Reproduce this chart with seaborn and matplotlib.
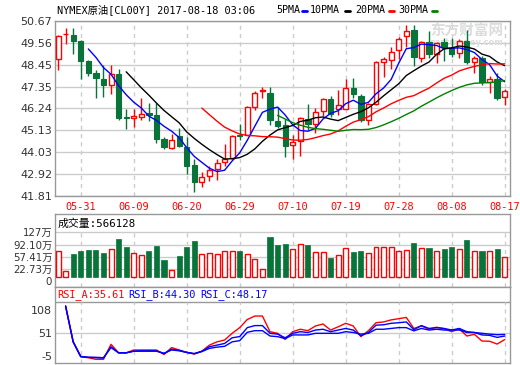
import numpy as np
import pandas as pd
import matplotlib
matplotlib.use("Agg")
import matplotlib.pyplot as plt
from matplotlib.lines import Line2D
import seaborn as sns

# 日K数据
opens = [48.75, 50.00, 49.94, 49.67, 48.65, 48.02, 47.72, 47.43, 47.97, 45.83,
         45.76, 45.80, 46.02, 45.93, 44.68, 44.25, 44.85, 44.29, 43.39, 42.54,
         42.81, 43.18, 43.52, 43.73, 44.88, 44.88, 46.32, 47.15, 47.05, 45.63,
         45.39, 44.37, 44.61, 45.73, 45.46, 46.12, 46.70, 46.20, 46.20, 47.26,
         46.88, 45.65, 46.46, 48.57, 48.70, 49.21, 49.89, 50.20, 48.82, 49.63,
         48.99, 49.60, 49.30, 49.04, 49.68, 48.57, 48.79, 47.56, 47.72, 46.83]
highs = [49.97, 50.31, 50.31, 49.70, 48.70, 48.19, 48.45, 48.45, 48.24, 46.20,
         46.20, 46.75, 46.54, 46.53, 44.80, 44.97, 45.25, 44.80, 43.69, 43.01,
         43.35, 43.69, 44.46, 44.88, 45.48, 46.35, 47.12, 47.34, 47.34, 46.32,
         45.70, 44.88, 45.81, 46.49, 46.27, 46.75, 46.89, 47.17, 47.73, 47.77,
         46.95, 46.52, 48.65, 48.87, 49.33, 49.85, 50.45, 50.45, 49.65, 50.14,
         49.60, 49.80, 49.80, 49.77, 50.23, 48.92, 48.92, 47.90, 48.02, 47.22]
lows = [48.19, 49.52, 49.01, 47.72, 47.87, 46.75, 46.83, 46.95, 45.65, 45.19,
        45.29, 45.65, 45.59, 44.51, 44.20, 44.20, 44.29, 42.93, 42.03, 42.25,
        42.59, 42.64, 43.35, 43.69, 44.63, 44.88, 46.15, 46.78, 45.39, 45.25,
        43.78, 43.66, 43.83, 45.14, 45.00, 45.87, 45.81, 45.90, 46.20, 46.78,
        45.56, 45.39, 46.44, 47.85, 48.24, 48.75, 49.33, 48.41, 48.60, 48.82,
        48.53, 48.62, 48.87, 48.82, 48.48, 48.02, 47.43, 47.05, 46.66, 46.44]
closes = [49.89, 50.03, 49.67, 48.65, 48.04, 47.77, 47.43, 47.97, 45.78, 45.75,
          45.87, 45.95, 45.93, 44.68, 44.27, 44.63, 44.32, 43.35, 42.50, 42.76,
          43.15, 43.47, 43.69, 44.85, 44.83, 46.32, 47.05, 47.18, 45.65, 45.36,
          44.32, 44.54, 45.76, 45.47, 46.07, 46.70, 45.98, 46.41, 47.26, 46.95,
          45.65, 46.49, 48.57, 48.73, 49.12, 49.77, 50.14, 48.87, 49.60, 48.99,
          49.55, 49.33, 48.99, 49.68, 48.57, 48.79, 47.56, 47.72, 46.78, 47.12]
# 成交量 (万)
volumes = [73.9, 17.0, 65.4, 73.9, 76.8, 76.8, 69.1, 78.7, 108.0, 85.3,
           67.2, 61.7, 73.9, 88.1, 48.3, 19.9, 59.7, 85.3, 103.2, 65.4,
           68.2, 65.4, 73.9, 73.9, 73.9, 65.4, 51.2, 22.7, 114.6, 91.0,
           94.7, 79.6, 93.8, 91.0, 71.1, 71.1, 54.9, 62.5, 82.5, 71.1,
           73.9, 68.2, 84.4, 85.3, 85.3, 73.9, 76.8, 97.5, 82.5, 82.5,
           73.9, 79.6, 85.3, 79.6, 105.2, 73.9, 73.9, 73.9, 79.6, 56.6]
nan = np.nan
rsi_a = [nan, 118, 30, -7, -9, -13, -13, 24, 3, 3,
         10, 10, 10, 10, -1, 16, 10, 4, 0, 7,
         22, 30, 34.5, 51, 65, 85, 93.5, 93.5, 55, 51,
         36, 55, 61, 57.5, 69, 74, 59, 67, 75.6, 69,
         42.8, 57.5, 77, 79, 84, 87, 90, 63, 69, 61,
         66, 62, 55, 62, 44.4, 48.5, 32, 31.5, 24.6, 35.6]
rsi_b = [nan, 118, 30, -6, -8, -9, -10, 18, 3, 3,
         7, 8, 8, 8, 1, 12, 9, 4, 1, 7,
         18, 22, 26, 40, 43, 65, 70, 70, 51, 49,
         40, 51, 55, 53, 59, 61, 55, 59, 63, 59,
         45, 53, 71, 72, 75.6, 77, 79, 60, 70, 63,
         65, 63, 59, 63, 55, 53, 47, 46, 41, 44.3]
rsi_c = [nan, 118, 30, -6, -8, -8, -9, 16, 3, 3,
         7, 7, 7, 7, 2, 10, 8, 4, 1, 6,
         14, 17, 19, 30, 33, 53.5, 57.5, 57.5, 44.4, 42.8,
         38, 47, 47, 47, 51, 51, 51, 51, 55, 53,
         49, 51, 61, 61, 63, 65, 65, 57, 63, 59,
         61, 59, 59, 59, 53, 53, 51, 49, 47.6, 48.2]

date_pos = [3, 10, 17, 24, 31, 38, 45, 52, 59]
date_labels = ["05-31", "06-09", "06-20", "06-29", "07-10", "07-19", "07-28", "08-08", "08-17"]
price_ticks = [41.81, 42.92, 44.03, 45.13, 46.24, 47.35, 48.45, 49.56, 50.67]
vol_ticks = [0, 22.73, 57.41, 92.10, 127]
vol_tick_labels = ["0", "22.73万", "57.41万", "92.10万", "127万"]
rsi_ticks = [-5, 51, 108]

RED = "#ff0000"
GREEN = "#08743a"
BLUE = "#0000ff"
GRID = "#cccccc"
FRAME = "#999999"

sns.set_style("white")
plt.rcParams["font.family"] = ["DejaVu Sans", "Noto Sans CJK SC"]
MONO = ["DejaVu Sans Mono", "Noto Sans CJK SC"]

df = pd.DataFrame({"open": opens, "high": highs, "low": lows, "close": closes,
                   "vol": volumes, "RSI_A": rsi_a, "RSI_B": rsi_b, "RSI_C": rsi_c})
df["idx"] = np.arange(len(df))
df["up"] = df["close"] >= df["open"]
for n in (5, 10, 20, 30):
    df[f"MA{n}"] = df["close"].rolling(n).mean()

W, H = 520, 365
fig = plt.figure(figsize=(W / 100, H / 100), dpi=100)


def rect(top, bottom):
    return [55 / W, 1 - bottom / H, 455 / W, (bottom - top) / H]


ax = fig.add_axes(rect(21, 196))
axv = fig.add_axes(rect(214, 287))
axr = fig.add_axes(rect(287, 363))
XLIM = (-0.4, 59.7)

# ---- K线 ----
up = df[df["up"]]
dn = df[~df["up"]]
body = (df["close"] - df["open"]).abs().clip(lower=0.012)
ax.vlines(up["idx"], up["low"], up["high"], color=RED, lw=1, zorder=3)
ax.vlines(dn["idx"], dn["low"], dn["high"], color=GREEN, lw=1, zorder=3)
ax.bar(up["idx"], body[up.index], bottom=up[["open", "close"]].min(axis=1), width=0.66,
       facecolor="white", edgecolor=RED, lw=1, zorder=4)
ax.bar(dn["idx"], body[dn.index], bottom=dn[["open", "close"]].min(axis=1), width=0.7,
       facecolor=GREEN, edgecolor=GREEN, lw=0.8, zorder=4)

ma = df.melt(id_vars="idx", value_vars=["MA5", "MA10", "MA20", "MA30"],
             var_name="ma", value_name="v").dropna()
sns.lineplot(data=ma, x="idx", y="v", hue="ma", estimator=None, legend=False, lw=1,
             palette={"MA5": BLUE, "MA10": "black", "MA20": RED, "MA30": "#008000"},
             ax=ax, zorder=5)

for y in price_ticks:
    ax.axhline(y, color=GRID, lw=1, zorder=0)
for x in date_pos:
    ax.axvline(x, color=GRID, lw=1, ls=(0, (3, 3)), zorder=0)
ax.set_ylim(41.81, 50.67)
ax.set_xlim(*XLIM)
ax.set_yticks(price_ticks, [f"{v:.2f}" for v in price_ticks])
ax.set_xticks(date_pos, date_labels)
ax.tick_params(axis="y", length=0, pad=2, labelsize=8, labelcolor="#333333")
ax.tick_params(axis="x", length=0, pad=4, labelsize=7.4, labelcolor=RED)
for lb in ax.get_xticklabels():
    lb.set_family(MONO)
ax.set_xlabel("")
ax.set_ylabel("")

# 水印
ax.text(0.985, 0.945, "东方财富网", transform=ax.transAxes, ha="right", va="center",
        fontsize=10.5, fontweight="bold", color="#dcdcdc", family=["Noto Sans CJK SC"], zorder=1)
ax.text(0.985, 0.875, "eastmoney.com", transform=ax.transAxes, ha="right", va="center",
        fontsize=6, fontweight="bold", color="#dcdcdc", zorder=1)

# ---- 成交量 ----
axv.bar(up["idx"], up["vol"], width=0.66, facecolor="white", edgecolor=RED, lw=1, zorder=3)
axv.bar(dn["idx"], dn["vol"], width=0.68, facecolor=GREEN, edgecolor=GREEN, lw=0.5, zorder=3)
for y in vol_ticks[1:]:
    axv.axhline(y, color=GRID, lw=1, zorder=0)
axv.vlines(date_pos, -28.5, 127, color=GRID, lw=1, ls=(0, (3, 3)), zorder=0)
axv.set_ylim(-28.5, 179.2)
axv.set_xlim(*XLIM)
axv.set_xticks([])
axv.set_yticks(vol_ticks, vol_tick_labels)
axv.tick_params(axis="y", length=0, pad=2, labelsize=7.4, labelcolor="#333333")
# "0" 放在柱底下方一点, 避免与 22.73万 重叠
axv.get_yticklabels()[0].set_verticalalignment("top")
axv.text(0.005, 0.875, "成交量:566128", transform=axv.transAxes, ha="left", va="center",
         fontsize=7.8, color="black", family=MONO)

# ---- RSI ----
rsi = df.melt(id_vars="idx", value_vars=["RSI_A", "RSI_B", "RSI_C"],
              var_name="k", value_name="v").dropna()
sns.lineplot(data=rsi, x="idx", y="v", hue="k", estimator=None, legend=False, lw=1,
             palette={"RSI_A": RED, "RSI_B": BLUE, "RSI_C": BLUE}, ax=axr, zorder=3)
axr.axhline(51, color=GRID, lw=1, zorder=0)
axr.axhline(128.7, color=FRAME, lw=1, zorder=0)
axr.vlines(date_pos, -22, 128.7, color=GRID, lw=1, ls=(0, (3, 3)), zorder=0)
axr.set_ylim(-22, 164.9)
axr.set_xlim(*XLIM)
axr.set_xticks([])
axr.set_yticks(rsi_ticks, [str(v) for v in rsi_ticks])
axr.tick_params(axis="y", length=0, pad=2, labelsize=8, labelcolor="#333333")
axr.set_xlabel("")
axr.set_ylabel("")
for txt, col, xa in [("RSI_A:35.61", RED, 0.0044), ("RSI_B:44.30", BLUE, 0.16),
                     ("RSI_C:48.17", BLUE, 0.3187)]:
    axr.text(xa, 0.905, txt, transform=axr.transAxes, ha="left", va="center",
             fontsize=7.4, color=col, family=MONO)

for a in (ax, axv, axr):
    for s in a.spines.values():
        s.set_color(FRAME)
        s.set_linewidth(1)

# ---- 标题和均线图例 ----
fig.text(57 / W, 1 - 10 / H, "NYMEX原油[CL00Y] 2017-08-18 03:06", ha="left", va="center",
         fontsize=7.4, color="black", family=MONO)
legend_items = [("5PMA", 276, BLUE, 302), ("10PMA", 310, "black", 345),
                ("20PMA", 355, RED, 389), ("30PMA", 398, "#008000", 432)]
for lab, x0, col, dx in legend_items:
    fig.text(x0 / W, 1 - 10 / H, lab, ha="left", va="center", fontsize=7.2,
             color="black", family=MONO)
    fig.add_artist(Line2D([dx / W, (dx + 5) / W], [1 - 11 / H, 1 - 11 / H],
                          color=col, lw=2, transform=fig.transFigure))

fig.savefig("out.png", dpi=100)
